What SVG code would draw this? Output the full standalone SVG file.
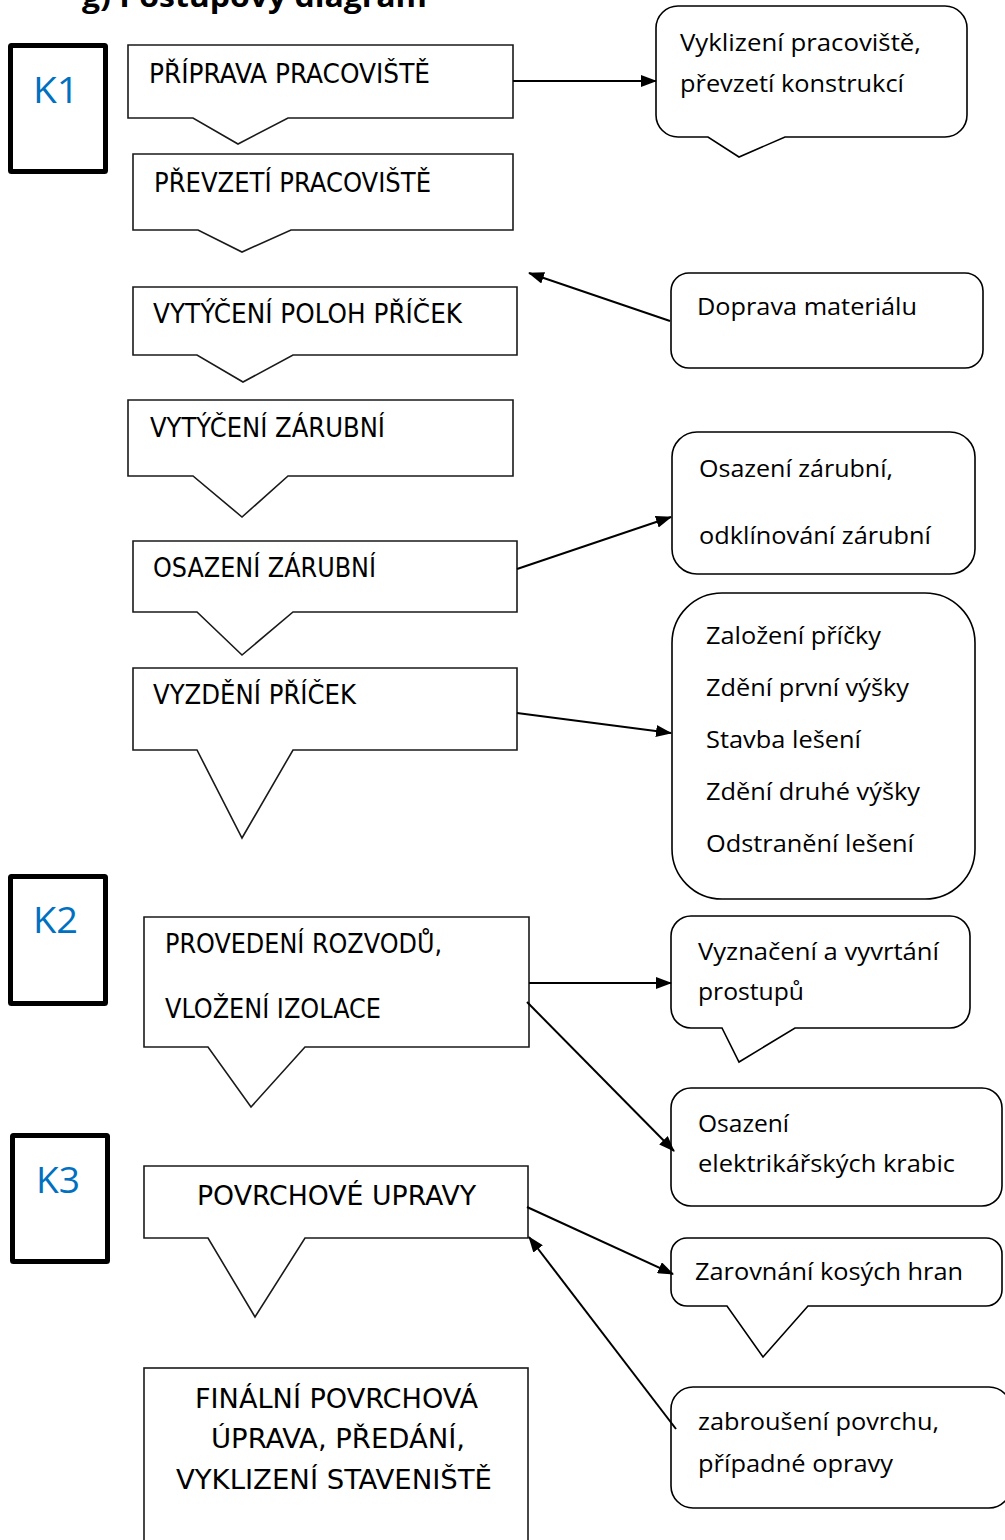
<svg xmlns="http://www.w3.org/2000/svg" width="1005" height="1540" viewBox="0 0 1005 1540">
  <style>
    .bg { fill: #ffffff; }
    .proc { fill: #ffffff; stroke: #1a1a1a; stroke-width: 1.6; stroke-linejoin: miter; }
    .call { fill: #ffffff; stroke: #000000; stroke-width: 1.6; }
    .kbox { fill: #ffffff; stroke: #000000; stroke-width: 5; }
    .ptxt { font-family: "DejaVu Sans Condensed", "DejaVu Sans", sans-serif; font-size: 26px; fill: #000000; }
    .ctxt { font-family: "Open Sans", "Liberation Sans", sans-serif; font-size: 23.5px; fill: #000000; }
    .ktxt { font-family: "Open Sans", "Liberation Sans", sans-serif; font-size: 36px; fill: #0070C0; }
    .title { font-family: "Open Sans", "Liberation Sans", sans-serif; font-size: 28px; font-weight: bold; fill: #000000; }
    .conn { fill: none; stroke: #000000; stroke-width: 2; marker-end: url(#arrow); }
  </style>
  <defs>
    <marker id="arrow" markerUnits="userSpaceOnUse" markerWidth="16" markerHeight="12" refX="15" refY="6" orient="auto">
      <path d="M0,0 L16,6 L0,12 Z" fill="#000000"/>
    </marker>
  </defs>
  <rect class="bg" x="0" y="0" width="1005" height="1540"/>

  <text class="title" x="82" y="7" textLength="345" lengthAdjust="spacingAndGlyphs">g) Postupový diagram</text>

  <g id="k1"><rect class="kbox" x="10.5" y="45.5" width="95" height="126" rx="1"/><text class="ktxt" x="33" y="103" textLength="46" lengthAdjust="spacingAndGlyphs">K1</text></g>
  <g id="k2"><rect class="kbox" x="10.5" y="876.5" width="95" height="127" rx="1"/><text class="ktxt" x="33" y="933" textLength="45" lengthAdjust="spacingAndGlyphs">K2</text></g>
  <g id="k3"><rect class="kbox" x="12.5" y="1135.5" width="95" height="126" rx="1"/><text class="ktxt" x="36" y="1193" textLength="44" lengthAdjust="spacingAndGlyphs">K3</text></g>

  <g id="n1"><path class="proc" d="M128,45 H513 V118 H288 L238,144 L193,118 H128 Z"/><text class="ptxt" x="149" y="83" textLength="281" lengthAdjust="spacingAndGlyphs">PŘÍPRAVA PRACOVIŠTĚ</text></g>
  <g id="n2"><path class="proc" d="M133,154 H513 V230 H291 L242,252 L198,230 H133 Z"/><text class="ptxt" x="154" y="192" textLength="277" lengthAdjust="spacingAndGlyphs">PŘEVZETÍ PRACOVIŠTĚ</text></g>
  <g id="n3"><path class="proc" d="M133,287 H517 V355 H293 L243,382 L197,355 H133 Z"/><text class="ptxt" x="153" y="323" textLength="309" lengthAdjust="spacingAndGlyphs">VYTÝČENÍ POLOH PŘÍČEK</text></g>
  <g id="n4"><path class="proc" d="M128,400 H513 V476 H288 L242,517 L193,476 H128 Z"/><text class="ptxt" x="150" y="437" textLength="235" lengthAdjust="spacingAndGlyphs">VYTÝČENÍ ZÁRUBNÍ</text></g>
  <g id="n5"><path class="proc" d="M133,541 H517 V612 H293 L242,655 L197,612 H133 Z"/><text class="ptxt" x="153" y="577" textLength="223" lengthAdjust="spacingAndGlyphs">OSAZENÍ ZÁRUBNÍ</text></g>
  <g id="n6"><path class="proc" d="M133,668 H517 V750 H293 L242,838 L197,750 H133 Z"/><text class="ptxt" x="153" y="704" textLength="203" lengthAdjust="spacingAndGlyphs">VYZDĚNÍ PŘÍČEK</text></g>
  <g id="n7"><path class="proc" d="M144,917 H529 V1047 H305 L251,1107 L208,1047 H144 Z"/><text class="ptxt" x="165" y="953" textLength="277" lengthAdjust="spacingAndGlyphs">PROVEDENÍ ROZVODŮ,</text><text class="ptxt" x="165" y="1018" textLength="216" lengthAdjust="spacingAndGlyphs">VLOŽENÍ IZOLACE</text></g>
  <g id="n8"><path class="proc" d="M144,1166 H528 V1238 H305 L255,1317 L208,1238 H144 Z"/><text class="ptxt" x="197" y="1205" textLength="279" lengthAdjust="spacingAndGlyphs">POVRCHOVÉ UPRAVY</text></g>
  <g id="n9"><rect class="proc" x="144" y="1368" width="384" height="200"/><text class="ptxt" x="195" y="1408" textLength="283" lengthAdjust="spacingAndGlyphs">FINÁLNÍ POVRCHOVÁ</text><text class="ptxt" x="211" y="1448" textLength="254" lengthAdjust="spacingAndGlyphs">ÚPRAVA, PŘEDÁNÍ,</text><text class="ptxt" x="176" y="1489" textLength="316" lengthAdjust="spacingAndGlyphs">VYKLIZENÍ STAVENIŠTĚ</text></g>

  <g id="c1"><path class="call" d="M678,6 H945 A22,22 0 0 1 967,28 V115 A22,22 0 0 1 945,137 H785 L739,157 L708,137 H678 A22,22 0 0 1 656,115 V28 A22,22 0 0 1 678,6 Z"/><text class="ctxt" x="680" y="51" textLength="241" lengthAdjust="spacingAndGlyphs">Vyklizení pracoviště,</text><text class="ctxt" x="680" y="92" textLength="224" lengthAdjust="spacingAndGlyphs">převzetí konstrukcí</text></g>
  <g id="c2"><rect class="call" x="671" y="273" width="312" height="95" rx="18"/><text class="ctxt" x="697" y="315" textLength="220" lengthAdjust="spacingAndGlyphs">Doprava materiálu</text></g>
  <g id="c3"><rect class="call" x="672" y="432" width="303" height="142" rx="25"/><text class="ctxt" x="699" y="477" textLength="194" lengthAdjust="spacingAndGlyphs">Osazení zárubní,</text><text class="ctxt" x="699" y="544" textLength="232" lengthAdjust="spacingAndGlyphs">odklínování zárubní</text></g>
  <g id="c4"><rect class="call" x="672" y="593" width="303" height="306" rx="50"/><text class="ctxt" x="706" y="644" textLength="175" lengthAdjust="spacingAndGlyphs">Založení příčky</text><text class="ctxt" x="706" y="696" textLength="203" lengthAdjust="spacingAndGlyphs">Zdění první výšky</text><text class="ctxt" x="706" y="748" textLength="155" lengthAdjust="spacingAndGlyphs">Stavba lešení</text><text class="ctxt" x="706" y="800" textLength="214" lengthAdjust="spacingAndGlyphs">Zdění druhé výšky</text><text class="ctxt" x="706" y="852" textLength="208" lengthAdjust="spacingAndGlyphs">Odstranění lešení</text></g>
  <g id="c5"><path class="call" d="M691,916 H950 A20,20 0 0 1 970,936 V1008 A20,20 0 0 1 950,1028 H795 L739,1062 L722,1028 H691 A20,20 0 0 1 671,1008 V936 A20,20 0 0 1 691,916 Z"/><text class="ctxt" x="698" y="960" textLength="241" lengthAdjust="spacingAndGlyphs">Vyznačení a vyvrtání</text><text class="ctxt" x="698" y="1000" textLength="106" lengthAdjust="spacingAndGlyphs">prostupů</text></g>
  <g id="c6"><rect class="call" x="671" y="1088" width="331" height="118" rx="20"/><text class="ctxt" x="698" y="1132" textLength="91" lengthAdjust="spacingAndGlyphs">Osazení</text><text class="ctxt" x="698" y="1172" textLength="257" lengthAdjust="spacingAndGlyphs">elektrikářských krabic</text></g>
  <g id="c7"><path class="call" d="M687,1238 H986 A16,16 0 0 1 1002,1254 V1290 A16,16 0 0 1 986,1306 H808 L763,1357 L727,1306 H687 A16,16 0 0 1 671,1290 V1254 A16,16 0 0 1 687,1238 Z"/><text class="ctxt" x="695" y="1280" textLength="268" lengthAdjust="spacingAndGlyphs">Zarovnání kosých hran</text></g>
  <g id="c8"><rect class="call" x="671" y="1387" width="340" height="121" rx="22"/><text class="ctxt" x="698" y="1430" textLength="241" lengthAdjust="spacingAndGlyphs">zabroušení povrchu,</text><text class="ctxt" x="698" y="1472" textLength="195" lengthAdjust="spacingAndGlyphs">případné opravy</text></g>

  <g id="connectors">
    <line class="conn" x1="513" y1="81" x2="656" y2="81"/>
    <line class="conn" x1="670" y1="321" x2="529" y2="273"/>
    <line class="conn" x1="517" y1="569" x2="671" y2="517"/>
    <line class="conn" x1="517" y1="713" x2="671" y2="733"/>
    <line class="conn" x1="529" y1="983" x2="671" y2="983"/>
    <line class="conn" x1="527" y1="1002" x2="674" y2="1151"/>
    <line class="conn" x1="527" y1="1207" x2="673" y2="1274"/>
    <line class="conn" x1="676" y1="1429" x2="529" y2="1237"/>
  </g>
</svg>
